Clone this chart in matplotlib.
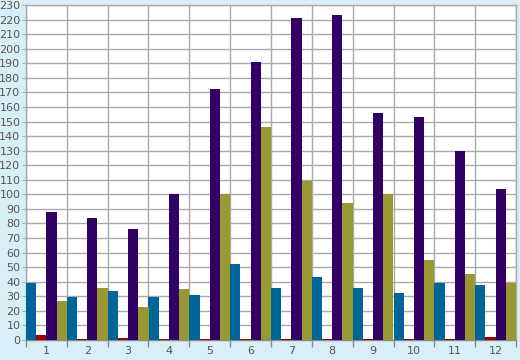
import matplotlib
matplotlib.use("Agg")
import matplotlib.pyplot as plt
import numpy as np

categories = ["1", "2", "3", "4", "5", "6", "7", "8", "9", "10", "11", "12"]
blue = [39, 29.5, 33.5, 29.5, 31, 52, 35.5, 43, 35.5, 32, 39, 37.5]
red = [3.5, 0.5, 1.5, 0.5, 0.5, 0.5, 0.5, 0.5, 0.5, 0.5, 1, 2]
purple = [88, 84, 76, 100, 172, 191, 221, 223, 156, 153, 130, 104]
olive = [26.5, 36, 22.5, 35, 100, 146, 109, 94, 100, 55, 45, 39]

series = [blue, red, purple, olive]
colors = ["#006699", "#990000", "#330066", "#999933"]

bg = "#d9eff7"
fig = plt.figure(figsize=(5.2, 3.6), dpi=100, facecolor=bg)
ax = fig.add_axes([26/520, 20/360, 490/520, 335/360])
ax.set_facecolor("white")

n = len(categories)
x = np.arange(n)
w = 0.25
for i, (s, c) in enumerate(zip(series, colors)):
    ax.bar(x - 0.5 + w * i, s, width=w, align="edge", color=c, zorder=3, linewidth=0)

ax.set_xlim(-0.5, n - 0.5)
ax.set_ylim(0, 230)
ax.set_yticks(np.arange(0, 231, 10))
ax.set_xticks(x)
ax.set_xticklabels(categories)
ax.set_xticks(np.arange(n + 1) - 0.5, minor=True)
ax.tick_params(axis="x", which="major", length=0, pad=4, labelsize=8, labelcolor="#555555")
ax.tick_params(axis="x", which="minor", length=5, color="#888888", width=1)
ax.tick_params(axis="y", length=3, color="#aaaaaa", pad=1, labelsize=8, labelcolor="#555555")
ax.grid(True, which="minor", axis="x", color="#aaaaaa", linewidth=1, zorder=0)
ax.grid(True, which="major", axis="y", color="#aaaaaa", linewidth=1, zorder=0)
for sp in ax.spines.values():
    sp.set_color("#aaaaaa")
    sp.set_linewidth(1)
ax.spines["bottom"].set_color("#888888")

fig.savefig("out.png", dpi=100, facecolor=bg)
